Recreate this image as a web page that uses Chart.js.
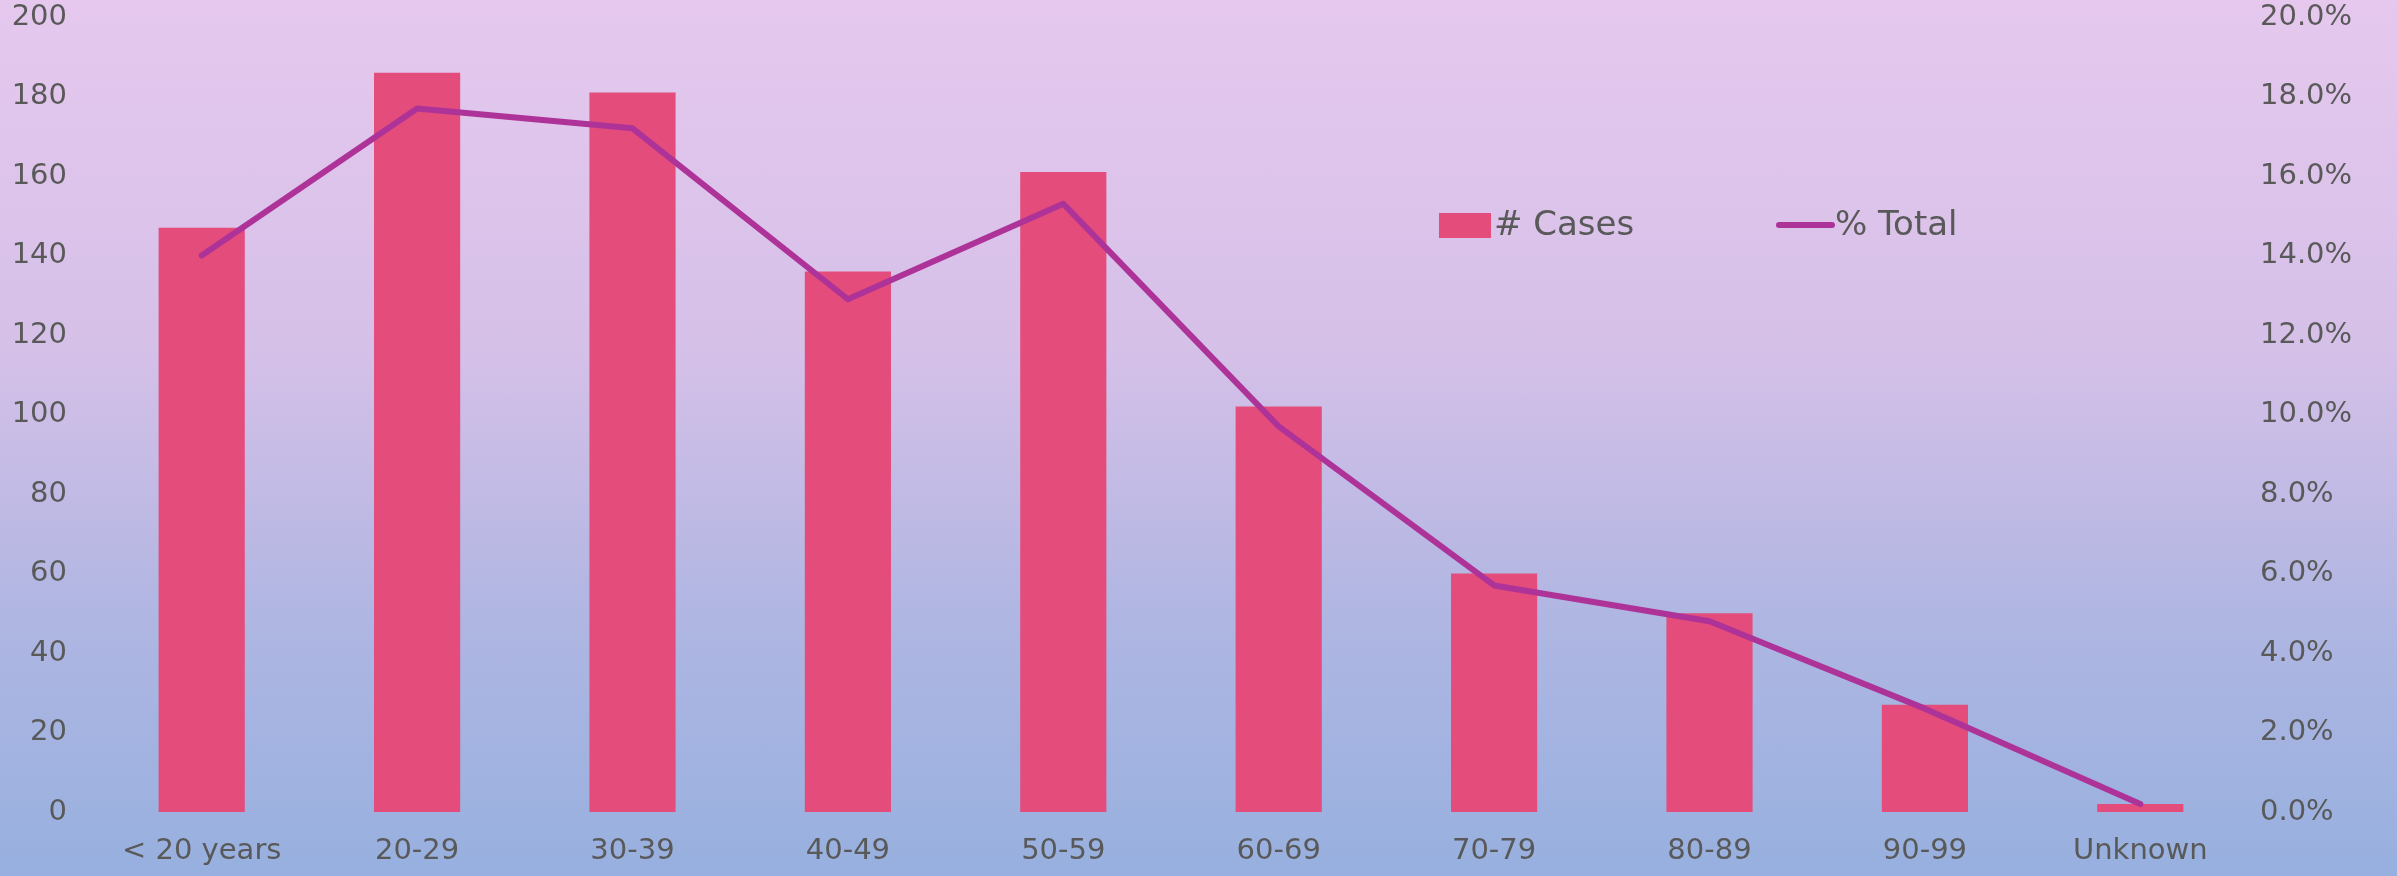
<!DOCTYPE html>
<html>
<head>
<meta charset="utf-8">
<script src="https://cdn.jsdelivr.net/npm/chart.js@4.4.1/dist/chart.umd.min.js"></script>
<style>
  html, body { margin: 0; padding: 0; }
  body {
    width: 2397px; height: 876px; overflow: hidden;
    background: linear-gradient(to bottom, #e6c8ee 0%, #d5c0e8 40%, #b0b6e2 70%, #97b0df 100%);
  }
  #wrap { position: relative; width: 2397px; height: 876px; }
</style>
</head>
<body>
<div id="wrap"><canvas id="ageChart"></canvas></div>
<script>
// Age groups and values
const ageGroups = ["< 20 years", "20-29", "30-39", "40-49", "50-59", "60-69", "70-79", "80-89", "90-99", "Unknown"];
const cases = [147, 186, 181, 136, 161, 102, 60, 50, 27, 2];
const pctTotal = [14.0, 17.7, 17.2, 12.9, 15.3, 9.7, 5.7, 4.8, 2.6, 0.2];
const leftTicks = [0, 20, 40, 60, 80, 100, 120, 140, 160, 180, 200];
const rightTicks = [0, 2, 4, 6, 8, 10, 12, 14, 16, 18, 20];

const textColor = "#595959";
const fontFamily = "'DejaVu Sans', sans-serif";

// draws the legend inside the plot, like the original
const innerLegend = {
  id: "innerLegend",
  afterDraw(chart) {
    const ctx = chart.ctx;
    const y = 225;
    ctx.save();
    ctx.font = "34px " + fontFamily;
    ctx.textBaseline = "middle";

    // # Cases
    ctx.fillStyle = "#e34c7b";
    ctx.fillRect(1439, y - 12, 52, 25);
    ctx.fillStyle = textColor;
    ctx.fillText("# Cases", 1494, y + 1);

    // % Total
    ctx.strokeStyle = "#ae3399";
    ctx.lineWidth = 6;
    ctx.lineCap = "round";
    ctx.beginPath();
    ctx.moveTo(1779, y);
    ctx.lineTo(1832, y);
    ctx.stroke();
    ctx.fillText("% Total", 1835, y + 1);
    ctx.restore();
  }
};

const noEdgePadding = scale => {
  scale.paddingTop = 0;
  scale.paddingBottom = 0;
};

const ctx = document.getElementById("ageChart").getContext("2d");
const ageChart = new Chart(ctx, {
  data: {
    labels: ageGroups,
    datasets: [
      {
        type: "line",
        label: "% Total",
        data: pctTotal,
        yAxisID: "y1",
        borderColor: "#ae3399",
        borderWidth: 6,
        borderCapStyle: "round",
        borderJoinStyle: "round",
        pointRadius: 0,
        tension: 0,
        order: 1,
      },
      {
        type: "bar",
        label: "# Cases",
        data: cases,
        yAxisID: "y",
        backgroundColor: "#e34c7b",
        borderWidth: 0,
        categoryPercentage: 1.0,
        barPercentage: 0.4,
        order: 2,
      },
    ],
  },
  options: {
    responsive: true,
    maintainAspectRatio: false,
    animation: false,
    layout: { padding: { top: 17, right: 0, bottom: 0, left: 0 } },
    plugins: {
      legend: { display: false },
      tooltip: { enabled: false },
    },
    scales: {
      x: {
        grid: { display: false },
        border: { display: false },
        ticks: {
          color: textColor,
          font: { family: fontFamily, size: 29 },
          padding: 14,
          maxRotation: 0,
          autoSkip: false,
        },
        afterFit(scale) { scale.height = 64; },
      },
      y: {
        position: "left",
        min: 0,
        max: 200,
        grid: { display: false },
        border: { display: false },
        afterBuildTicks(scale) { scale.ticks = leftTicks.map(v => ({ value: v })); },
        ticks: {
          color: textColor,
          font: { family: fontFamily, size: 29 },
          padding: 19,
        },
        afterFit(scale) { scale.width = 94; noEdgePadding(scale); },
      },
      y1: {
        position: "right",
        min: 0,
        max: 20,
        grid: { display: false },
        border: { display: false },
        afterBuildTicks(scale) { scale.ticks = rightTicks.map(v => ({ value: v })); },
        ticks: {
          color: textColor,
          font: { family: fontFamily, size: 29 },
          padding: 4,
          callback: v => v.toFixed(1) + "%",
        },
        afterFit(scale) { scale.width = 149; noEdgePadding(scale); },
      },
    },
  },
  plugins: [innerLegend],
});
</script>
</body>
</html>
